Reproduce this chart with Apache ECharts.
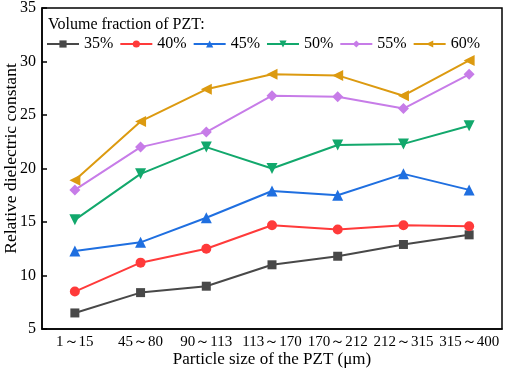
<!DOCTYPE html>
<html>
<head>
<meta charset="utf-8">
<script src="https://cdn.jsdelivr.net/npm/echarts@6/dist/echarts.min.js"></script>
<style>
html,body{margin:0;padding:0;background:#fff;}
#chart{width:505px;height:372px;}
</style>
</head>
<body>
<div id="chart"></div>
<script>
// particle size groups
const categories=["1～15","45～80","90～113","113～170","170～212","212～315","315～400"];

// relative dielectric constant per PZT volume fraction
const v35=[6.5,8.4,9.0,11.0,11.8,12.9,13.8];
const v40=[8.5,11.2,12.5,14.7,14.3,14.7,14.6];
const v45=[12.3,13.1,15.4,17.9,17.5,19.5,18.0];
const v50=[15.2,19.5,22.0,20.0,22.2,22.3,24.0];
const v55=[18.0,22.0,23.4,26.8,26.7,25.6,28.8];
const v60=[18.9,24.4,27.4,28.8,28.7,26.8,30.1];

const seriesNames=["35%","40%","45%","50%","55%","60%"];

const font="'Liberation Serif','Times New Roman',serif";

const styles=[
    {color:"#484848",symbol:"rect",rotate:0,size:9},
    {color:"#ff3a3a",symbol:"circle",rotate:0,size:10},
    {color:"#1f6fe0",symbol:"triangle",rotate:0,size:11},
    {color:"#12a86c",symbol:"triangle",rotate:180,size:11},
    {color:"#c77ce8",symbol:"diamond",rotate:0,size:11},
    {color:"#dc9a10",symbol:"triangle",rotate:90,size:11}
];

const values=[v35,v40,v45,v50,v55,v60];

const chart=echarts.init(document.getElementById("chart"));

chart.setOption({
    animation:false,
    textStyle:{fontFamily:font},
    grid:{
        left:42,right:3,top:8,bottom:43,
        containLabel:false,
        outerBoundsMode:"none",
        show:true,borderColor:"#000",borderWidth:1.5
    },
    title:{
        text:"Volume fraction of PZT:",
        left:43,top:12,
        textStyle:{fontFamily:font,fontSize:16,fontWeight:"normal",color:"#000"}
    },
    legend:{
        data:seriesNames,
        left:41,top:31,
        itemWidth:32,itemHeight:9,itemGap:6,
        textStyle:{fontFamily:font,fontSize:16,color:"#000"}
    },
    xAxis:{
        type:"category",
        data:categories,
        name:"Particle size of the PZT (μm)",
        nameLocation:"middle",
        nameGap:22,
        nameMoveOverlap:false,
        nameTextStyle:{fontFamily:font,fontSize:17,color:"#000"},
        axisLine:{lineStyle:{color:"#000",width:1.5}},
        axisTick:{inside:true,alignWithLabel:true,length:5,lineStyle:{color:"#000",width:1.5}},
        axisLabel:{fontFamily:font,fontSize:15,color:"#000",margin:6,interval:0},
        splitLine:{show:false}
    },
    yAxis:{
        type:"value",
        min:5,max:35,interval:5,
        name:"Relative dielectric constant",
        nameLocation:"middle",
        nameGap:22,
        nameMoveOverlap:false,
        nameTextStyle:{fontFamily:font,fontSize:17.5,color:"#000",padding:[0,0,0,20]},
        axisLine:{show:true,lineStyle:{color:"#000",width:1.5}},
        axisTick:{show:true,inside:true,length:5,lineStyle:{color:"#000",width:1.5}},
        axisLabel:{fontFamily:font,fontSize:16,color:"#000",margin:6},
        splitLine:{show:false}
    },
    series:values.map((d,i)=>({
        name:seriesNames[i],
        type:"line",
        data:d,
        symbol:styles[i].symbol,
        symbolSize:styles[i].size,
        symbolRotate:styles[i].rotate,
        showAllSymbol:true,
        color:styles[i].color,
        lineStyle:{width:2,color:styles[i].color},
        itemStyle:{color:styles[i].color}
    }))
});
</script>
</body>
</html>
